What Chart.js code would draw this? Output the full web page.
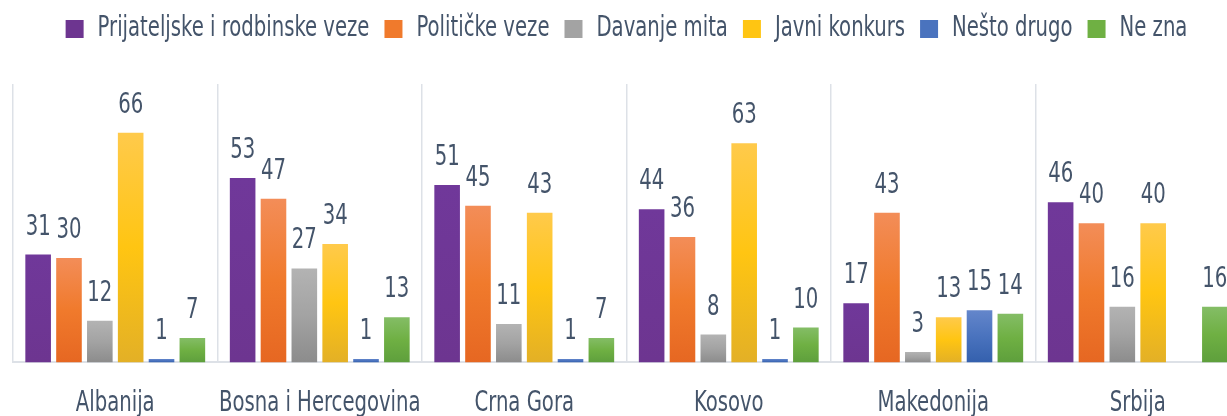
<!DOCTYPE html>
<html>
<head>
<meta charset="utf-8">
<script src="https://cdn.jsdelivr.net/npm/chart.js@4.4.1/dist/chart.umd.min.js"></script>
<style>
  html, body { margin: 0; padding: 0; background: #fff; overflow: hidden; }
  #wrap { width: 1227px; height: 416px; overflow: hidden; }
  canvas { display: block; }
</style>
</head>
<body>
<div id="wrap"><canvas id="chart" width="1253" height="446"></canvas></div>
<script>
// chart data
const categories = ['Albanija', 'Bosna i Hercegovina', 'Crna Gora', 'Kosovo', 'Makedonija', 'Srbija'];
const seriesNames = ['Prijateljske i rodbinske veze', 'Političke veze', 'Davanje mita', 'Javni konkurs', 'Nešto drugo', 'Ne zna'];
const prijateljske = [31, 53, 51, 44, 17, 46];
const politicke = [30, 47, 45, 36, 43, 40];
const davanjeMita = [12, 27, 11, 8, 3, 16];
const javniKonkurs = [66, 34, 43, 63, 13, 40];
const nestoDrugo = [1, 1, 1, 1, 15, null];
const neZna = [7, 13, 7, 10, 14, 16];

const FONT = "'DejaVu Sans Condensed', 'DejaVu Sans', sans-serif";
const TEXT = '#44546a';
const GRID = '#dde1e7';
// no condensed face like the original has, so squeeze text horizontally
const TEXT_SCALE = 0.78;

// gradient stops per series (top -> bottom)
const fills = [
  ['#70389a', '#6d3590'],
  ['#f38d58', '#f07a2c', '#e66722'],
  ['#b3b3b3', '#a3a3a3', '#8c8c8c'],
  ['#ffca4b', '#ffc512', '#e3b026'],
  ['#6486cb', '#4a73be', '#3460ad'],
  ['#84bd66', '#6fb043', '#5e9f3c'],
];

const values = [prijateljske, politicke, davanjeMita, javniKonkurs, nestoDrugo, neZna];

function barFill(stops) {
  return (ctx) => {
    const chart = ctx.chart;
    const v = ctx.raw;
    if (!chart.chartArea || v == null) return stops[0];
    const y = chart.scales.y;
    const top = y.getPixelForValue(v);
    const bottom = y.getPixelForValue(0);
    if (bottom - top < 1) return stops[0];
    const g = chart.ctx.createLinearGradient(0, top, 0, bottom);
    stops.forEach((c, i) => g.addColorStop(i / (stops.length - 1), c));
    return g;
  };
}

const canvas = document.getElementById('chart');
const c2d = canvas.getContext('2d');
const origFillText = c2d.fillText;
const origMeasureText = c2d.measureText;
c2d.fillText = function (text, x, y) {
  this.save();
  this.translate(x, y);
  this.scale(TEXT_SCALE, 1);
  origFillText.call(this, text, 0, 0);
  this.restore();
};
c2d.measureText = function (text) {
  const m = origMeasureText.call(this, text);
  return {
    width: m.width * TEXT_SCALE,
    actualBoundingBoxAscent: m.actualBoundingBoxAscent,
    actualBoundingBoxDescent: m.actualBoundingBoxDescent,
    actualBoundingBoxLeft: m.actualBoundingBoxLeft * TEXT_SCALE,
    actualBoundingBoxRight: m.actualBoundingBoxRight * TEXT_SCALE,
  };
};

// extra space between legend and plot
const legendMargin = {
  id: 'legendMargin',
  beforeInit(chart) {
    const fit = chart.legend.fit;
    chart.legend.fit = function () {
      fit.call(this);
      this.height += 31;
    };
  }
};

const valueLabels = {
  id: 'valueLabels',
  afterDatasetsDraw(chart) {
    const { ctx } = chart;
    ctx.save();
    ctx.font = '28px ' + FONT;
    ctx.fillStyle = TEXT;
    ctx.textAlign = 'center';
    ctx.textBaseline = 'alphabetic';
    chart.data.datasets.forEach((ds, i) => {
      const meta = chart.getDatasetMeta(i);
      meta.data.forEach((bar, j) => {
        const v = ds.data[j];
        if (v == null) return;
        ctx.fillText(String(v), bar.x, bar.y - 20);
      });
    });
    ctx.restore();
  }
};

new Chart(canvas, {
  type: 'bar',
  data: {
    labels: categories,
    datasets: values.map((data, i) => ({
      label: seriesNames[i],
      data: data,
      backgroundColor: barFill(fills[i]),
      categoryPercentage: 0.905,
      barPercentage: 0.83,
    })),
  },
  options: {
    responsive: false,
    animation: false,
    devicePixelRatio: 1,
    layout: { padding: { left: 13, right: 13, top: 0, bottom: 0 } },
    plugins: {
      tooltip: { enabled: false },
      legend: {
        position: 'top',
        labels: {
          color: TEXT,
          font: { family: FONT, size: 28 },
          boxWidth: 18,
          boxHeight: 18,
          padding: 15,
          generateLabels(chart) {
            return chart.data.datasets.map((ds, i) => ({
              text: ds.label,
              fillStyle: fills[i][1],
              strokeStyle: fills[i][1],
              lineWidth: 0,
              fontColor: TEXT,
              datasetIndex: i,
            }));
          },
        },
      },
    },
    scales: {
      x: {
        grid: { color: GRID, lineWidth: 1.5, drawTicks: false, offset: true },
        border: { color: GRID, width: 2 },
        ticks: { color: TEXT, font: { family: FONT, size: 28 }, padding: 25, maxRotation: 0, autoSkip: false },
      },
      y: {
        display: false,
        min: 0,
        max: 80,
      },
    },
  },
  plugins: [valueLabels, legendMargin],
});
</script>
</body>
</html>
